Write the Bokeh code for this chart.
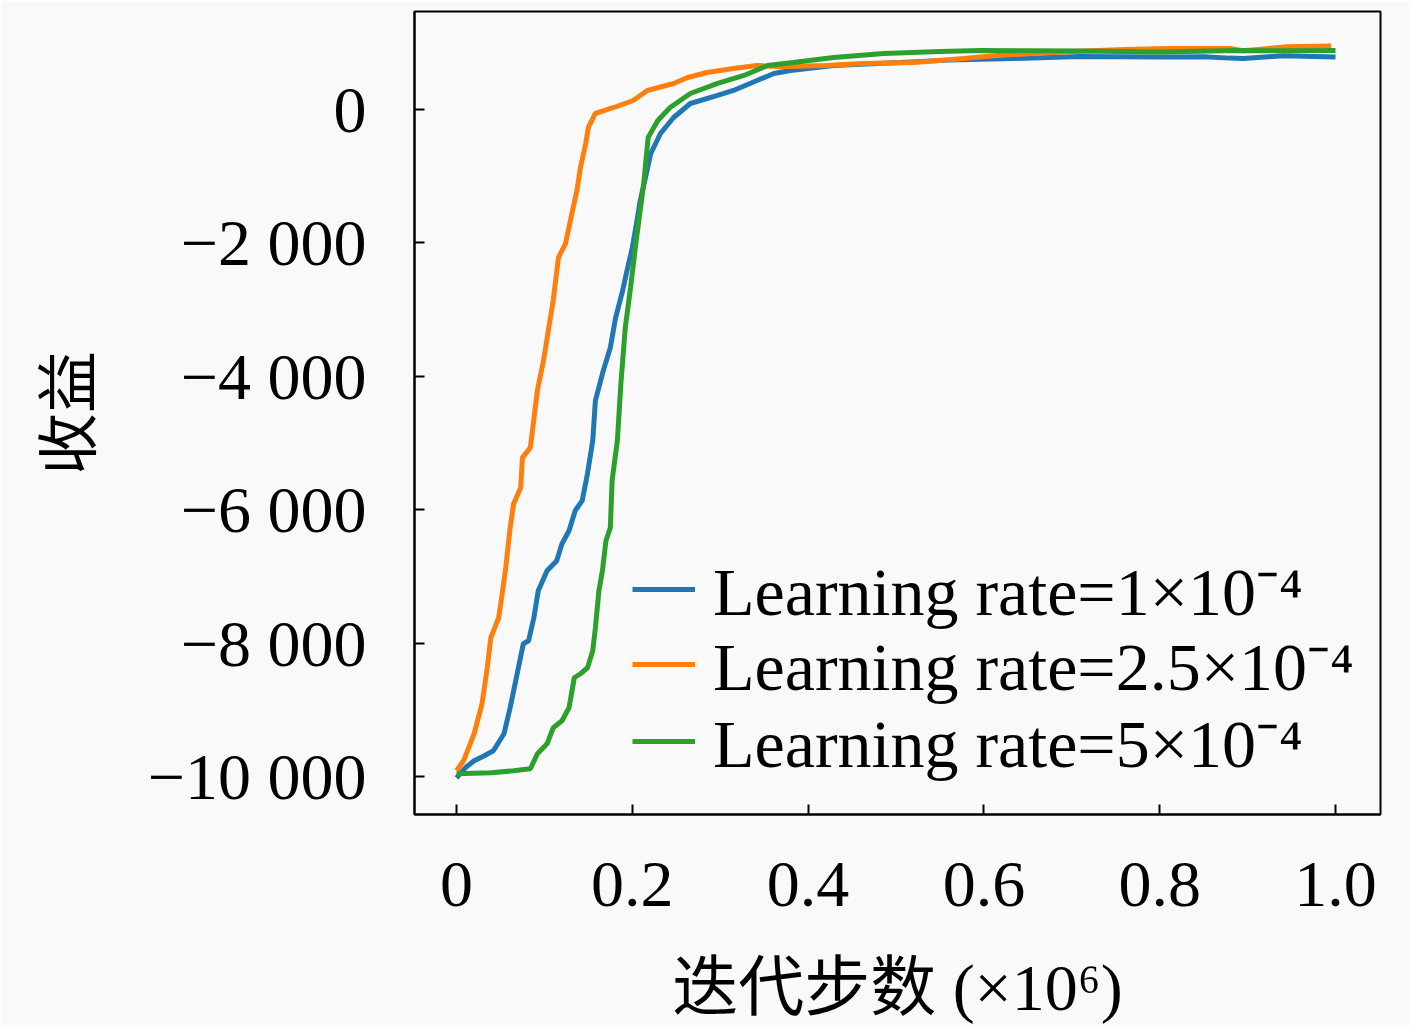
from bokeh.plotting import figure
from bokeh.models import FixedTicker, Range1d, Legend, LegendItem
from bokeh.core.properties import value
from bokeh.embed import file_html
from bokeh.resources import INLINE

# ---- data (x in units of 10^6 steps, y = reward) ----
steps_lr1 = [0, 0.010, 0.020, 0.030, 0.042, 0.054, 0.061, 0.069, 0.076, 0.082, 0.088, 0.093,
             0.103, 0.114, 0.120, 0.128, 0.135, 0.143, 0.149, 0.155, 0.158, 0.167, 0.175,
             0.181, 0.189, 0.194, 0.200, 0.204, 0.209, 0.215, 0.221, 0.232, 0.247, 0.266,
             0.297, 0.315, 0.342, 0.361, 0.380, 0.429, 0.505, 0.56, 0.634, 0.71, 0.80,
             0.85, 0.88, 0.895, 0.94, 1.0]
reward_lr1 = [-10020, -9870, -9765, -9700, -9615, -9360, -8970, -8460, -8010, -7965, -7620, -7215,
              -6915, -6765, -6510, -6315, -6015, -5865, -5460, -4965, -4365, -3915, -3570,
              -3120, -2715, -2415, -2070, -1770, -1365, -1020, -660, -360, -120, 90,
              210, 285, 435, 540, 585, 660, 705, 740, 765, 795, 785,
              790, 770, 765, 805, 785]

steps_lr2 = [0, 0.008, 0.020, 0.029, 0.035, 0.039, 0.048, 0.052, 0.056, 0.061, 0.065, 0.073,
             0.075, 0.084, 0.092, 0.099, 0.105, 0.110, 0.116, 0.124, 0.132, 0.137, 0.141,
             0.147, 0.150, 0.158, 0.179, 0.201, 0.217, 0.247, 0.263, 0.285, 0.315, 0.342,
             0.369, 0.42, 0.463, 0.52, 0.577, 0.615, 0.70, 0.76, 0.812, 0.88, 0.895,
             0.945, 0.995]
reward_lr2 = [-9915, -9765, -9360, -8910, -8370, -7920, -7620, -7260, -6870, -6270, -5910, -5670,
              -5220, -5070, -4215, -3765, -3270, -2865, -2220, -2010, -1515, -1215, -870,
              -510, -270, -60, 30, 135, 285, 390, 480, 555, 615, 660,
              640, 660, 690, 705, 765, 810, 870, 900, 915, 915, 880,
              940, 950]

steps_lr3 = [0, 0.039, 0.065, 0.084, 0.092, 0.103, 0.110, 0.120, 0.128, 0.134, 0.141, 0.149,
             0.155, 0.158, 0.162, 0.166, 0.170, 0.175, 0.177, 0.183, 0.187, 0.192, 0.198,
             0.204, 0.207, 0.213, 0.218, 0.229, 0.243, 0.266, 0.297, 0.327, 0.354, 0.383,
             0.429, 0.486, 0.55, 0.596, 0.65, 0.71, 0.80, 0.888, 0.94, 1.0]
reward_lr3 = [-9960, -9945, -9915, -9885, -9660, -9510, -9270, -9165, -8970, -8520, -8460, -8370,
              -8115, -7770, -7215, -6915, -6465, -6270, -5565, -4965, -4110, -3270, -2670,
              -2010, -1710, -1110, -420, -165, 30, 240, 390, 510, 660, 705,
              780, 840, 870, 885, 880, 875, 860, 885, 880, 885]

series_labels = ["Learning rate=1×10⁻⁴", "Learning rate=2.5×10⁻⁴", "Learning rate=5×10⁻⁴"]
series_colors = ["#1f77b4", "#ff7f0e", "#2ca02c"]

x_ticks = [0, 0.2, 0.4, 0.6, 0.8, 1.0]
x_tick_labels = ["0", "0.2", "0.4", "0.6", "0.8", "1.0"]
y_ticks = [0, -2000, -4000, -6000, -8000, -10000]
y_tick_labels = ["0", "−2 000", "−4 000", "−6 000", "−8 000", "−10 000"]

x_label = "迭代步数 (×10⁶)"
y_label = "收益"

SERIF = "Liberation Serif"
MIXED = "'Liberation Serif', 'Noto Sans CJK SC'"
BG = "#f9f9f9"

p = figure(width=1409, height=1027,
           x_range=Range1d(-0.0478, 1.0512), y_range=Range1d(-10570, 1469),
           output_backend="svg", toolbar_location=None,
           min_border_left=414, min_border_right=29, min_border_top=11, min_border_bottom=213)
p.background_fill_color = BG
p.border_fill_color = BG
p.grid.visible = False
p.outline_line_color = "black"
p.outline_line_width = 2
p.outline_line_alpha = 1

series = [(steps_lr1, reward_lr1), (steps_lr2, reward_lr2), (steps_lr3, reward_lr3)]
renderers = []
for (xs, ys), col in zip(series, series_colors):
    renderers.append(p.line(xs, ys, line_color=col, line_width=5))

for ax in (p.xaxis, p.yaxis):
    ax.axis_line_width = 2
    ax.axis_line_color = "black"
    ax.major_tick_in = 10
    ax.major_tick_out = 0
    ax.major_tick_line_width = 2
    ax.major_tick_line_color = "black"
    ax.minor_tick_line_color = None
    ax.major_label_text_font = SERIF
    ax.major_label_text_font_size = "66px"
    ax.major_label_text_color = "black"
    ax.axis_label_text_font_style = "normal"
    ax.axis_label_text_color = "black"

p.xaxis.ticker = FixedTicker(ticks=x_ticks)
p.xaxis.major_label_overrides = dict(zip(x_ticks, x_tick_labels))
p.xaxis.major_label_standoff = 48
p.xaxis.axis_label = x_label
p.xaxis.axis_label_text_font = MIXED
p.xaxis.axis_label_text_font_size = "66px"
p.xaxis.axis_label_standoff = 42

p.yaxis.ticker = FixedTicker(ticks=y_ticks)
p.yaxis.major_label_overrides = dict(zip(y_ticks, y_tick_labels))
p.yaxis.axis_label = y_label
p.yaxis.axis_label_text_font = "Noto Sans CJK SC"
p.yaxis.axis_label_text_font_size = "62px"
p.yaxis.major_label_standoff = 48
p.yaxis.axis_label_standoff = 36

# one single-entry legend per series so that the row spacing can be set exactly
legend_offsets = [179, 104, 27]
for r, lab, yoff in zip(renderers, series_labels, legend_offsets):
    leg = Legend(items=[LegendItem(label=value(lab), renderers=[r])], location=(218, yoff))
    leg.label_text_font = SERIF
    leg.label_text_font_size = "68px"
    leg.label_text_color = "black"
    leg.glyph_width = 63
    leg.label_standoff = 18
    leg.spacing = 0
    leg.padding = 0
    leg.margin = 0
    leg.border_line_alpha = 0
    leg.background_fill_alpha = 0
    p.add_layout(leg)

open("out.html", "w").write(file_html(p, INLINE))
